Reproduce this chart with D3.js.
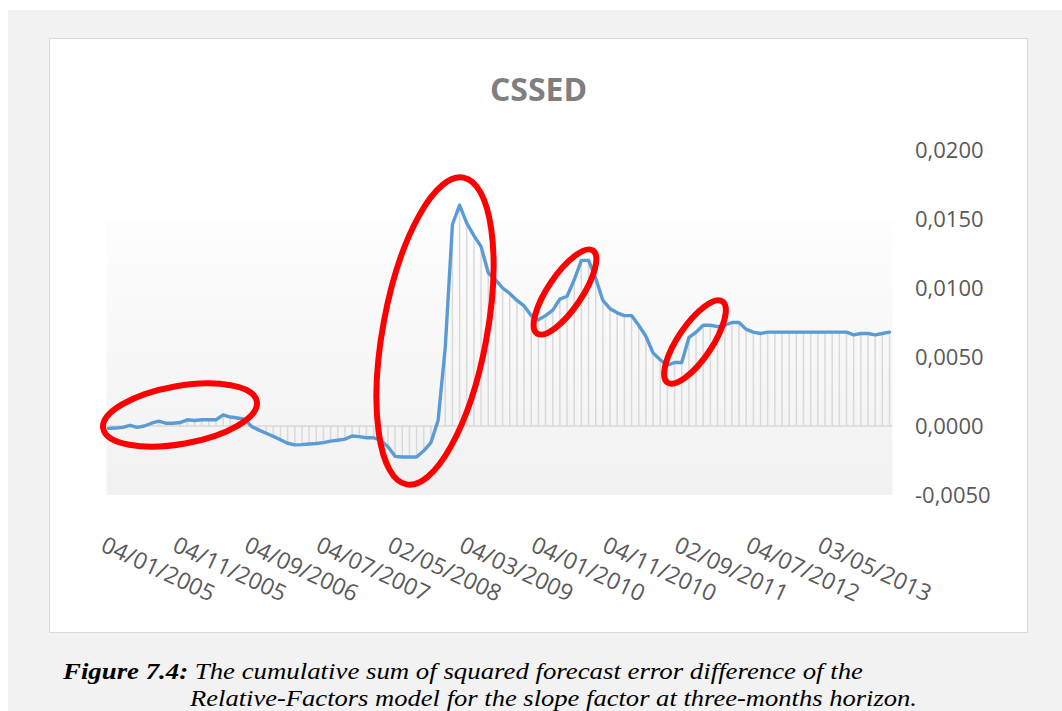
<!DOCTYPE html>
<html>
<head>
<meta charset="utf-8">
<script src="https://cdn.jsdelivr.net/npm/d3@7"></script>
<style>
  body { margin: 0; background: #ffffff; }
  svg { display: block; }
</style>
</head>
<body>
<svg id="chart" width="1062" height="711"></svg>
<script>
// ---------------- data ----------------
const chartTitle = "CSSED";
const cssedValues = [
  -0.00017, -0.00015, -0.0001, 0.00005, -0.0001, 0.0, 0.0002, 0.00035, 0.0002, 0.0002,
  0.00025, 0.00045, 0.0004, 0.00045, 0.00045, 0.00045, 0.0008, 0.00065, 0.00058, 0.0005,
  -0.00005, -0.0003, -0.00053, -0.00075, -0.001, -0.00125, -0.00137, -0.00135, -0.0013, -0.00127,
  -0.0012, -0.0011, -0.00103, -0.00095, -0.00072, -0.00077, -0.00085, -0.00085, -0.00105, -0.0015,
  -0.0022, -0.00225, -0.00225, -0.00225, -0.0018, -0.0012, 0.0004, 0.0057, 0.0146, 0.0160,
  0.0147, 0.0138, 0.0130, 0.0111, 0.0106, 0.0100, 0.0096, 0.0091, 0.0087, 0.0080,
  0.0077, 0.0080, 0.0084, 0.0092, 0.0094, 0.0106, 0.0120, 0.0120, 0.0107, 0.0091,
  0.0085, 0.0082, 0.0080, 0.0080, 0.0073, 0.0065, 0.0053, 0.0048, 0.0044, 0.0046,
  0.0046, 0.0064, 0.0068, 0.0073, 0.0073, 0.0072, 0.0073, 0.0075, 0.0075, 0.0070,
  0.0068, 0.0067, 0.0068, 0.0068, 0.0068, 0.0068, 0.0068, 0.0068, 0.0068, 0.0068,
  0.0068, 0.0068, 0.0068, 0.0068, 0.0066, 0.0067, 0.0067, 0.0066, 0.0067, 0.0068
];
const xTickIndex = [0, 10, 20, 30, 40, 50, 60, 70, 80, 90, 100];
const xTickLabels = ["04/01/2005", "04/11/2005", "04/09/2006", "04/07/2007", "02/05/2008",
  "04/03/2009", "04/01/2010", "04/11/2010", "02/09/2011", "04/07/2012", "03/05/2013"];
const yTickValues = [-0.005, 0, 0.005, 0.01, 0.015, 0.02];
const yTickLabels = ["-0,0050", "0,0000", "0,0050", "0,0100", "0,0150", "0,0200"];
const captionBold = "Figure 7.4:";
const captionLine1 = " The cumulative sum of squared forecast error difference of the";
const captionLine2 = "Relative-Factors model for the slope factor at three-months horizon.";

// ---------------- layout ----------------
const svg = d3.select("#chart");
const plotLeft = 106.5, plotRight = 892.5, plotTop = 221, plotBottom = 495;

const x = d3.scaleLinear().domain([0, cssedValues.length - 1]).range([108.5, 889.5]);
const y = d3.scaleLinear().domain([-0.005, 0.02]).range([495, 150]);

// page background
svg.append("rect").attr("x", 0).attr("y", 0).attr("width", 1062).attr("height", 711).attr("fill", "#ffffff");
svg.append("rect").attr("x", 8).attr("y", 10).attr("width", 1054).attr("height", 701).attr("fill", "#f2f2f2");
// chart box
svg.append("rect").attr("x", 49.5).attr("y", 38.5).attr("width", 978).attr("height", 594)
  .attr("fill", "#ffffff").attr("stroke", "#d9d9d9").attr("stroke-width", 1);

// plot area gradient
const defs = svg.append("defs");
const grad = defs.append("linearGradient").attr("id", "plotGrad")
  .attr("x1", 0).attr("y1", 0).attr("x2", 0).attr("y2", 1);
grad.append("stop").attr("offset", "0%").attr("stop-color", "#fdfdfd");
grad.append("stop").attr("offset", "100%").attr("stop-color", "#f1f1f1");
svg.append("rect").attr("x", plotLeft).attr("y", plotTop)
  .attr("width", plotRight - plotLeft).attr("height", plotBottom - plotTop)
  .attr("fill", "url(#plotGrad)");

// title
svg.append("text").attr("x", 538.5).attr("y", 101).attr("text-anchor", "middle")
  .attr("font-family", "'Open Sans', sans-serif").attr("font-weight", "bold")
  .attr("font-size", 32).attr("fill", "#7f7f7f").text(chartTitle);

// zero line
svg.append("line").attr("x1", plotLeft).attr("x2", plotRight)
  .attr("y1", y(0)).attr("y2", y(0)).attr("stroke", "#d9d9d9").attr("stroke-width", 1.5);

// drop lines
svg.append("g").selectAll("line").data(cssedValues).join("line")
  .attr("x1", (d, i) => x(i)).attr("x2", (d, i) => x(i))
  .attr("y1", y(0)).attr("y2", d => y(d))
  .attr("stroke", "#d9d9d9").attr("stroke-width", 1.5);

// series line
const lineGen = d3.line().x((d, i) => x(i)).y(d => y(d));
svg.append("path").datum(cssedValues).attr("d", lineGen)
  .attr("fill", "none").attr("stroke", "#5b9bd5").attr("stroke-width", 3.4)
  .attr("stroke-linejoin", "round").attr("stroke-linecap", "round");

// y axis (right side)
const yAxis = d3.axisRight(y).tickValues(yTickValues)
  .tickFormat((d, i) => yTickLabels[i]).tickSize(0).tickPadding(22.5);
const gy = svg.append("g").attr("transform", `translate(${plotRight},0)`).call(yAxis);
gy.select(".domain").remove();
gy.selectAll("text").attr("font-family", "'Open Sans', sans-serif").attr("font-size", 22)
  .attr("fill", "#595959").attr("dy", "0.36em");

// x axis
const axisY = plotBottom;
const xAxis = d3.axisBottom(x).tickValues(xTickIndex)
  .tickFormat((d, i) => xTickLabels[i]).tickSize(0);
const gx = svg.append("g").attr("transform", `translate(0,${axisY})`).call(xAxis);
gx.select(".domain").remove();
gx.selectAll("text")
  .attr("font-family", "'Open Sans', sans-serif").attr("font-size", 23).attr("fill", "#595959")
  .attr("text-anchor", "start").attr("x", 0).attr("y", 0).attr("dy", 0)
  .attr("transform", `translate(-9.5, ${550.5 - axisY}) rotate(25)`);

// red annotation ellipses
const ellipses = [
  { cx: 180, cy: 415, rx: 78, ry: 29, rot: -10 },
  { cx: 435, cy: 331, rx: 52, ry: 156, rot: 10.5 },
  { cx: 565, cy: 292, rx: 50, ry: 17, rot: -56 },
  { cx: 695, cy: 342, rx: 49, ry: 17, rot: -56 }
];
svg.append("g").selectAll("ellipse").data(ellipses).join("ellipse")
  .attr("cx", 0).attr("cy", 0).attr("rx", d => d.rx).attr("ry", d => d.ry)
  .attr("transform", d => `translate(${d.cx},${d.cy}) rotate(${d.rot})`)
  .attr("fill", "none").attr("stroke", "#ff0000").attr("stroke-width", 6);

// caption
const cap1 = svg.append("text").attr("x", 63).attr("y", 679)
  .attr("font-family", "'Liberation Serif', 'Times New Roman', serif")
  .attr("font-size", 24).attr("font-style", "italic").attr("fill", "#000")
  .attr("textLength", 800).attr("lengthAdjust", "spacingAndGlyphs");
cap1.append("tspan").attr("font-weight", "bold").text(captionBold);
cap1.append("tspan").text(captionLine1);
svg.append("text").attr("x", 190).attr("y", 706)
  .attr("font-family", "'Liberation Serif', 'Times New Roman', serif")
  .attr("font-size", 24).attr("font-style", "italic").attr("fill", "#000")
  .attr("textLength", 727).attr("lengthAdjust", "spacingAndGlyphs")
  .text(captionLine2);
</script>
</body>
</html>
